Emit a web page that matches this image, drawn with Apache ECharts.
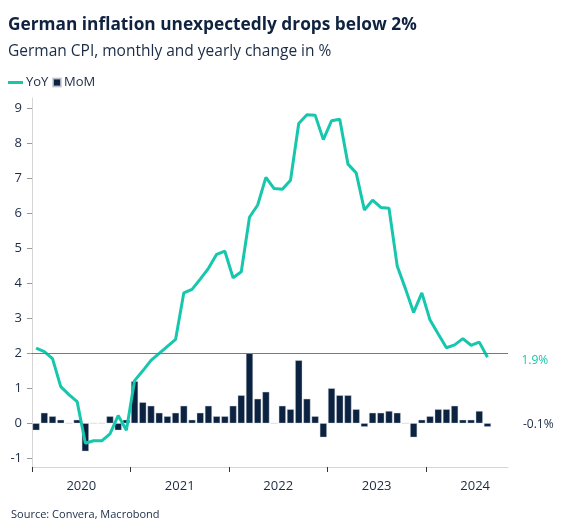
<!DOCTYPE html>
<html>
<head>
<meta charset="utf-8">
<script src="https://cdn.jsdelivr.net/npm/echarts@6/dist/echarts.min.js"></script>
<style>
html,body{margin:0;padding:0;background:#fff;}
#c{width:566px;height:529px;}
</style>
</head>
<body>
<div id="c"></div>
<script>
// Monthly data, Jan 2020 .. Aug 2024
var yoy = [2.15, 2.05, 1.85, 1.05, 0.82, 0.62, -0.57, -0.5, -0.5, -0.3, 0.22, -0.2,
           1.22, 1.5, 1.8, 2.0, 2.2, 2.4, 3.73, 3.83, 4.12, 4.43, 4.83, 4.92,
           4.16, 4.33, 5.89, 6.24, 7.03, 6.71, 6.69, 6.95, 8.57, 8.82, 8.81, 8.11,
           8.65, 8.69, 7.41, 7.16, 6.1, 6.38, 6.17, 6.15, 4.5, 3.85, 3.17, 3.73,
           2.95, 2.55, 2.16, 2.24, 2.42, 2.23, 2.32, 1.89];
var mom = [-0.2, 0.3, 0.2, 0.1, 0, 0.1, -0.8, 0, 0, 0.2, -0.2, 0.1,
           1.2, 0.6, 0.5, 0.3, 0.2, 0.3, 0.5, 0.1, 0.3, 0.5, 0.2, 0.2,
           0.5, 0.8, 2.0, 0.7, 0.9, 0, 0.5, 0.4, 1.8, 0.7, 0.2, -0.4,
           1.0, 0.8, 0.8, 0.4, -0.1, 0.3, 0.3, 0.35, 0.3, 0, -0.4, 0.1,
           0.2, 0.4, 0.4, 0.5, 0.1, 0.1, 0.35, -0.1];
var years = ['2020', '2021', '2022', '2023', '2024'];
var yTicks = [-1, 0, 1, 2, 3, 4, 5, 6, 7, 8, 9];
var targetLevel = 2;

var monthsShown = 58;
var yearStarts = years.map(function (y, k) { return k * 12; });
var yearMids = years.map(function (y, k) { return k * 12 + 6; });

var teal = '#17c7ad';
var navy = '#0b2240';
var textCol = '#1b2b45';
var FONT = '"Open Sans", "Noto Sans", sans-serif';

var yoyData = yoy.map(function (v, i) { return [i + 0.5, v]; });
var momData = mom.map(function (v, i) {
  var item = { value: [i + 0.5, v] };
  if (i === mom.length - 1) {
    item.label = {
      show: true, position: 'right', offset: [27, 0],
      formatter: function (p) { return p.value[1].toFixed(1) + '%'; },
      color: textCol, fontSize: 12, fontFamily: FONT
    };
  }
  return item;
});

var chart = echarts.init(document.getElementById('c'), null, { renderer: 'canvas' });
chart.setOption({
  animation: false,
  backgroundColor: '#fff',
  textStyle: { fontFamily: FONT },
  title: [
    { text: 'German inflation unexpectedly drops below 2%', left: 8, top: 17, padding: 0,
      textStyle: { fontSize: 17.3, fontWeight: 'bold', color: '#0f2240', fontFamily: FONT } },
    { text: 'German CPI, monthly and yearly change in %', left: 8, top: 44, padding: 0,
      textStyle: { fontSize: 15.5, fontWeight: 'normal', color: textCol, fontFamily: FONT } },
    { text: 'Source: Convera, Macrobond', left: 11, top: 509, padding: 0,
      textStyle: { fontSize: 11, fontWeight: 'normal', color: textCol, fontFamily: FONT } }
  ],
  legend: [
    { data: ['YoY'], left: 8, top: 76, padding: 0, icon: 'rect', itemWidth: 15, itemHeight: 3, itemGap: 4,
      textStyle: { fontSize: 13, color: textCol, fontFamily: FONT, padding: [0, 0, 0, -2] } },
    { data: ['MoM'], left: 52, top: 76, padding: 0, icon: 'rect', itemWidth: 8, itemHeight: 8,
      textStyle: { fontSize: 13, color: textCol, fontFamily: FONT, padding: [0, 0, 0, -2] } }
  ],
  grid: { left: 32, right: 58, top: 98, bottom: 62, containLabel: false },
  xAxis: {
    type: 'value', min: 0, max: monthsShown,
    splitLine: { show: false },
    axisLine: { show: true, onZero: false, lineStyle: { color: '#d6d6d6', width: 1 } },
    axisTick: { show: true, length: 5, lineStyle: { color: '#333' }, customValues: yearStarts },
    axisLabel: {
      customValues: yearMids, margin: 13, color: textCol, fontSize: 13, fontFamily: FONT,
      formatter: function (v) { return years[Math.round((v - 6) / 12)] || ''; }
    }
  },
  yAxis: {
    type: 'value', min: -1.25, max: 9.3,
    splitLine: { show: false },
    axisLine: { show: true, onZero: false, lineStyle: { color: '#d6d6d6', width: 1 } },
    axisTick: { show: true, length: 5, lineStyle: { color: '#999' }, customValues: yTicks },
    axisLabel: { customValues: yTicks, margin: 10, color: textCol, fontSize: 13, fontFamily: FONT }
  },
  series: [
    {
      name: 'MoM', type: 'bar', data: momData, barWidth: 7,
      itemStyle: { color: navy, borderColor: 'rgba(200,205,214,0.8)', borderWidth: 0.5 },
      z: 2,
      markLine: {
        silent: true, symbol: ['none', 'none'], label: { show: false },
        lineStyle: { color: '#7a7a7a', width: 1, type: 'solid' },
        data: [{ yAxis: targetLevel }]
      }
    },
    {
      name: 'YoY', type: 'line', data: yoyData, showSymbol: false, symbol: 'none',
      lineStyle: { color: teal, width: 3 }, itemStyle: { color: teal },
      z: 3,
      endLabel: {
        show: true, offset: [26, 3], color: teal, fontSize: 12, fontFamily: FONT,
        formatter: function (p) { return p.value[1].toFixed(1) + '%'; }
      }
    }
  ]
});
</script>
</body>
</html>
